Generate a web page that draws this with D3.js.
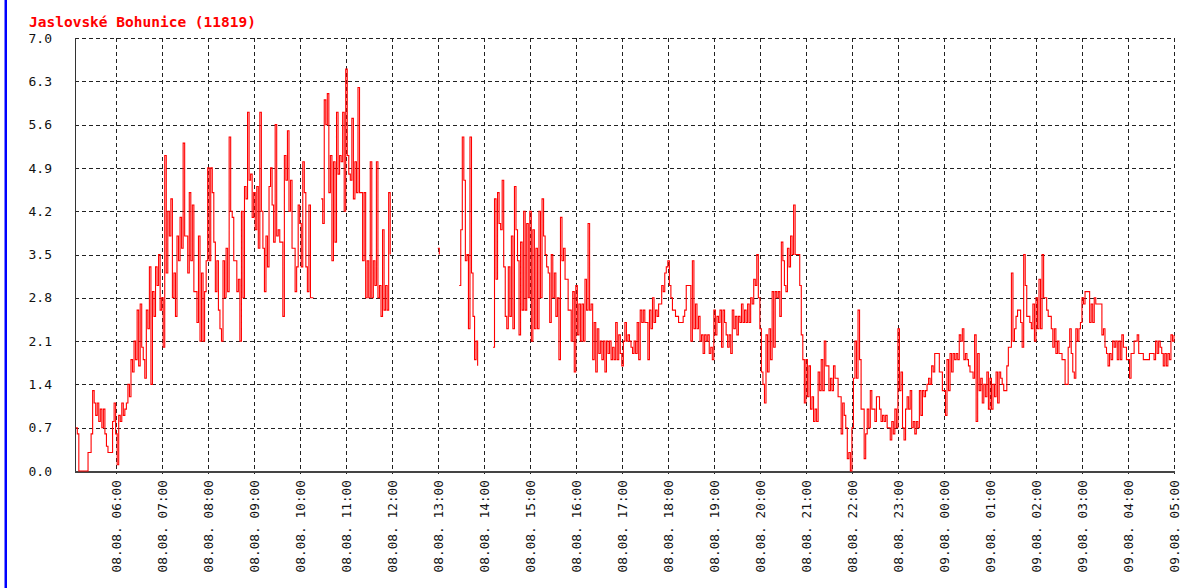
<!DOCTYPE html>
<html>
<head>
<meta charset="utf-8">
<script src="https://cdn.jsdelivr.net/npm/d3@7"></script>
<style>
  html, body { margin: 0; padding: 0; background: #fff; }
  svg { display: block; }
  text { font-family: "DejaVu Sans Mono", monospace; }
</style>
</head>
<body>
<svg id="chart" width="1182" height="588"></svg>
<script>
// ---- data ----
const title = "Jaslovské Bohunice (11819)";
const domainStart = new Date(2010, 7, 8, 5, 7);
const domainEnd = new Date(2010, 7, 9, 5, 0);
const firstSample = new Date(2010, 7, 8, 5, 8);
const stepMinutes = 2;
const yTicks = [0.0, 0.7, 1.4, 2.1, 2.8, 3.5, 4.2, 4.9, 5.6, 6.3, 7.0];
const N = null;
// values every 2 minutes from 08.08. 05:08 to 09.08. 05:00 (null = no data)
const v05 = [0.7, 0.6, 0.0, 0.0, 0.0, 0.0, 0.0, 0.0, 0.3, 0.3, 0.6, 1.3, 1.1, 0.9, 1.1, 0.8, 1.0, 0.7, 1.0, 0.6, 0.4, 0.3, 0.3, 0.3, 0.8, 1.1];
const v06 = [0.6, 0.1, 0.9, 0.8, 1.1, 0.9, 1.0, 1.1, 1.4, 1.2, 1.8, 1.6, 2.1, 1.8, 2.6, 1.7, 2.7, 2.0, 1.8, 1.5, 2.6, 2.3, 3.3, 1.4, 2.9, 2.5, 3.3, 3.0, 3.5, 2.6];
const v07 = [2.8, 2.0, 5.1, 3.2, 4.2, 3.8, 4.4, 2.8, 3.2, 2.5, 3.8, 3.4, 4.1, 3.6, 5.3, 3.8, 3.8, 3.2, 4.5, 3.4, 4.3, 2.9, 2.9, 2.4, 3.8, 2.1, 3.2, 2.1, 2.9, 3.4];
const v08 = [4.9, 3.4, 4.9, 4.5, 3.7, 2.9, 3.4, 2.6, 2.3, 2.1, 3.4, 2.8, 3.6, 2.9, 5.4, 4.2, 4.1, 3.4, 3.4, 2.9, 3.1, 2.1, 4.2, 2.8, 4.6, 4.4, 5.8, 4.7, 4.8, 4.1];
const v09 = [4.5, 3.9, 4.6, 3.6, 5.8, 4.2, 3.6, 2.9, 3.8, 3.3, 4.6, 4.9, 4.3, 3.7, 5.6, 3.8, 3.9, 3.7, 3.7, 2.5, 5.1, 4.7, 5.5, 4.2, 4.7, 3.6, 3.6, 2.9, 3.3, 4.3];
const v10 = [4.0, 3.3, 5.0, 4.5, 3.3, 2.9, 4.3, 2.8, 2.8, 2.8, N, N, N, N, 4.4, 4.0, 6.0, 5.6, 6.1, 4.5, 5.1, 3.4, 5.0, 3.7, 5.8, 4.8, 5.1, 5.0, 5.8, 4.2];
const v11 = [6.5, 5.1, 4.8, 4.7, 5.7, 4.4, 5.0, 4.5, 6.2, 4.5, 4.5, 3.4, 4.5, 2.8, 3.4, 2.8, 5.0, 2.8, 3.4, 3.0, 5.0, 2.8, 3.0, 2.5, 3.9, 2.6, 3.0, 2.6, 4.5, 3.5];
const v12 = [N, N, N, N, N, N, N, N, N, N, N, N, N, N, N, N, N, N, N, N, N, N, N, N, N, N, N, N, N, N];
const v13 = [3.6, 3.5, N, N, N, N, N, N, N, N, N, N, N, N, 3.0, 3.9, 5.4, 4.7, 3.4, 3.5, 2.3, 5.4, 3.2, 2.5, 1.8, 2.1, 1.7, N, N, N];
const v14 = [N, N, N, N, N, N, 2.0, 4.4, 3.1, 4.5, 4.0, 3.9, 4.7, 3.3, 2.5, 2.3, 3.3, 2.5, 3.8, 2.3, 4.6, 3.9, 3.4, 2.2, 3.7, 2.6, 4.2, 2.6, 4.0, 2.8];
const v15 = [4.2, 2.1, 3.9, 2.3, 3.6, 2.3, 4.2, 2.8, 4.4, 3.8, 3.5, 3.3, 3.2, 2.4, 3.5, 2.8, 3.2, 2.5, 2.8, 1.8, 4.1, 3.4, 3.6, 3.1, 3.1, 2.6, 2.6, 2.1, 2.9, 1.6];
const v16 = [3.0, 2.2, 2.7, 2.1, 2.7, 2.1, 3.1, 2.6, 4.0, 2.6, 2.7, 1.8, 2.4, 1.6, 2.3, 1.9, 2.1, 1.8, 2.1, 1.6, 2.1, 1.9, 2.1, 1.8, 2.0, 1.8, 2.4, 1.8, 2.2, 1.9];
const v17 = [1.7, 2.1, 2.4, 2.1, 2.2, 2.1, 2.0, 1.9, 2.1, 1.9, 2.4, 1.8, 2.6, 2.4, 2.6, 2.4, 2.4, 1.8, 2.6, 2.3, 2.8, 2.4, 2.6, 2.5, 2.7, 2.7, 3.0, 2.9, 3.2, 3.3];
const v18 = [3.4, 3.0, 2.8, 2.6, 2.6, 2.5, 2.5, 2.4, 2.4, 2.4, 2.5, 2.6, 3.0, 3.0, 3.0, 2.1, 3.4, 2.3, 2.7, 2.3, 2.5, 2.1, 2.2, 1.9, 2.2, 2.1, 2.2, 1.9, 2.0, 1.8];
const v19 = [2.6, 2.2, 2.5, 2.4, 2.6, 2.0, 2.6, 2.4, 2.2, 2.0, 2.2, 1.9, 2.6, 2.3, 2.5, 2.2, 2.5, 2.4, 2.7, 2.4, 2.6, 2.4, 2.7, 2.4, 2.8, 2.7, 3.1, 3.0, 3.5, 2.8];
const v20 = [2.3, 1.6, 1.4, 1.1, 2.2, 1.6, 2.3, 1.8, 2.9, 2.0, 2.9, 2.8, 2.9, 2.5, 3.7, 3.4, 3.0, 2.9, 3.6, 3.3, 3.8, 3.5, 4.3, 3.5, 3.5, 3.5, 3.0, 2.2, 1.8, 1.1];
const v21 = [1.8, 1.2, 1.7, 1.0, 1.2, 0.8, 1.0, 0.8, 1.6, 1.3, 1.8, 1.3, 2.1, 1.7, 1.7, 1.3, 1.5, 1.3, 1.7, 1.5, 1.5, 1.2, 1.2, 0.6, 1.1, 0.9, 0.7, 0.2, 0.3, 0.0];
const v22 = [0.7, 1.5, 2.1, 1.5, 2.6, 1.8, 1.0, 1.0, 0.2, 0.6, 1.0, 0.7, 1.3, 1.0, 1.0, 0.8, 1.2, 1.2, 1.0, 0.8, 0.9, 0.8, 0.9, 0.7, 0.7, 0.5, 0.8, 0.6, 1.0, 0.7];
const v23 = [2.3, 1.3, 1.6, 0.7, 0.5, 1.0, 1.2, 1.0, 1.3, 0.7, 0.8, 0.6, 0.8, 0.7, 1.3, 0.9, 1.3, 1.2, 1.3, 1.4, 1.5, 1.4, 1.7, 1.6, 1.9, 1.9, 1.9, 1.6, 1.6, 1.3];
const v00 = [1.3, 0.9, 1.8, 1.3, 1.9, 1.6, 1.9, 1.8, 1.9, 1.8, 2.2, 2.1, 2.3, 1.8, 1.9, 1.8, 1.7, 1.6, 1.6, 1.5, 2.2, 0.8, 1.9, 1.3, 1.5, 1.1, 1.4, 1.2, 1.6, 1.0];
const v01 = [1.5, 1.0, 1.4, 1.2, 1.6, 1.1, 1.6, 1.5, 1.4, 1.3, 1.3, 1.7, 2.0, 2.0, 3.2, 2.1, 2.3, 2.5, 2.6, 2.6, 2.4, 2.0, 3.5, 3.0, 2.5, 2.5, 2.4, 2.3, 2.7, 2.1];
const v02 = [2.8, 2.3, 3.1, 2.3, 3.5, 2.8, 2.8, 2.6, 2.5, 2.5, 2.3, 2.0, 2.3, 1.9, 2.1, 1.9, 1.9, 1.8, 1.8, 1.4, 1.4, 2.0, 2.3, 1.9, 1.6, 1.5, 2.3, 2.1, 2.3, 2.4];
const v03 = [2.8, 2.7, 2.9, 2.9, 2.9, 2.4, 2.7, 2.4, 2.8, 2.7, 2.7, 2.7, 2.7, 2.2, 2.3, 2.0, 1.9, 1.7, 1.9, 1.8, 2.1, 2.0, 2.1, 1.8, 2.1, 1.8, 2.2, 2.0, 2.0, 1.8];
const v04 = [1.8, 1.5, 1.9, 1.9, 2.1, 2.1, 2.2, 1.9, 1.9, 1.9, 1.8, 1.8, 1.8, 1.8, 1.9, 1.9, 1.9, 1.8, 2.1, 1.9, 2.1, 2.0, 1.9, 1.7, 1.9, 1.7, 1.9, 1.8, 2.2, 2.1];
const v05end = [2.2];

const values = [].concat(v05, v06, v07, v08, v09, v10, v11, v12, v13, v14, v15, v16,
  v17, v18, v19, v20, v21, v22, v23, v00, v01, v02, v03, v04, v05end);
const series = values.map((v, i) => ({ t: d3.timeMinute.offset(firstSample, i * stepMinutes), v }));

// ---- layout ----
const svg = d3.select("#chart");
const mLeft = 75, mRight = 1174, mTop = 38, mBottom = 471;

svg.append("rect").attr("x", 0).attr("y", 0).attr("width", 1182).attr("height", 588).attr("fill", "#fff");
svg.append("rect").attr("x", 4.5).attr("y", 0).attr("width", 2.5).attr("height", 588).attr("fill", "#0000ff");

const x = d3.scaleTime().domain([domainStart, domainEnd]).range([mLeft, mRight]);
const y = d3.scaleLinear().domain([0, 7]).range([mBottom, mTop]);

svg.append("text")
  .attr("x", 29).attr("y", 27)
  .attr("fill", "#ff0000")
  .attr("font-weight", "bold")
  .attr("font-size", "14.5px")
  .text(title);

// grid
const hours = x.ticks(d3.timeHour.every(1));
const grid = svg.append("g").attr("stroke", "#222").attr("stroke-width", 1)
  .attr("stroke-dasharray", "4,3").attr("shape-rendering", "crispEdges");
grid.selectAll("line.h").data(yTicks.filter(d => d > 0)).join("line")
  .attr("x1", mLeft).attr("x2", mRight)
  .attr("y1", d => Math.round(y(d)) + 0.5).attr("y2", d => Math.round(y(d)) + 0.5);
grid.selectAll("line.v").data(hours).join("line")
  .attr("x1", d => Math.round(x(d)) + 0.5).attr("x2", d => Math.round(x(d)) + 0.5)
  .attr("y1", mTop).attr("y2", mBottom + 3);

// y axis labels
const yAxis = d3.axisLeft(y).tickValues(yTicks).tickFormat(d3.format(".1f")).tickSize(0).tickPadding(23);
const gy = svg.append("g").attr("transform", `translate(${mLeft},0)`).call(yAxis);
gy.select(".domain").remove();
gy.selectAll("text").attr("font-family", "DejaVu Sans Mono, monospace").attr("font-size", "13px").attr("fill", "#111");

// x axis labels (rotated)
const fmt = d3.timeFormat("%d.%m. %H:%M");
const xAxis = d3.axisBottom(x).tickValues(hours).tickFormat(fmt).tickSize(0);
const gx = svg.append("g").attr("transform", `translate(0,${mBottom})`).call(xAxis);
gx.select(".domain").remove();
gx.selectAll("text")
  .attr("font-family", "DejaVu Sans Mono, monospace").attr("font-size", "12.8px").attr("fill", "#111")
  .attr("text-anchor", "end")
  .attr("transform", "rotate(-90)")
  .attr("x", -9).attr("y", 0).attr("dy", "0.35em");

// axis lines
svg.append("line").attr("x1", mLeft + 0.5).attr("x2", mLeft + 0.5).attr("y1", mTop).attr("y2", mBottom)
  .attr("stroke", "#333").attr("stroke-width", 1).attr("shape-rendering", "crispEdges");
svg.append("line").attr("x1", mLeft).attr("x2", mRight + 1).attr("y1", mBottom + 0.5).attr("y2", mBottom + 0.5)
  .attr("stroke", "#444").attr("stroke-width", 2).attr("shape-rendering", "crispEdges");

// data line
const line = d3.line()
  .defined(d => d.v !== null)
  .x(d => x(d.t))
  .y(d => y(d.v))
  .curve(d3.curveStepAfter);
svg.append("path").datum(series)
  .attr("d", line)
  .attr("fill", "none")
  .attr("stroke", "#ff0000")
  .attr("stroke-width", 1.1);
</script>
</body>
</html>
